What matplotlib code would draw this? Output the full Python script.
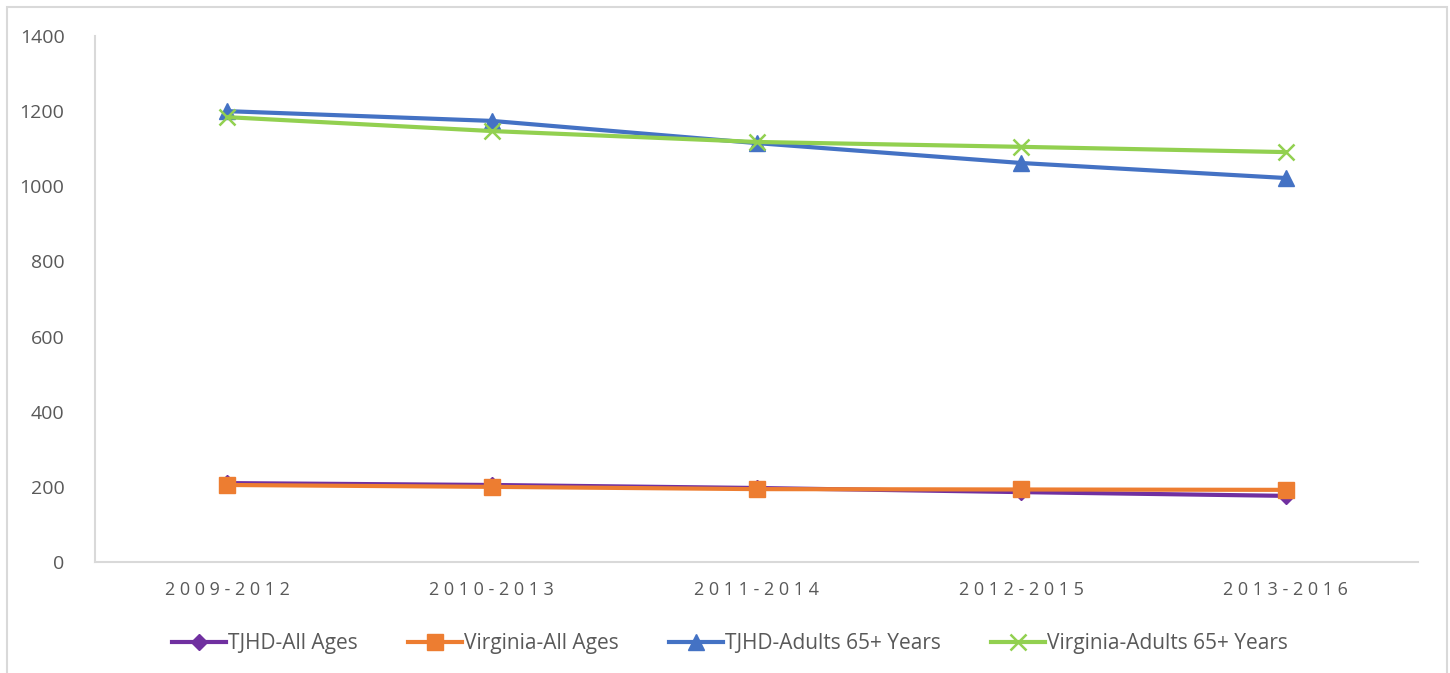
import matplotlib
matplotlib.use('Agg')
import matplotlib.pyplot as plt
from matplotlib.patches import Rectangle

# Rates by period
periods = ['2009-2012', '2010-2013', '2011-2014', '2012-2015', '2013-2016']
tjhd_all = [210, 205, 197, 186, 176]
va_all = [205, 200, 194, 193, 192]
tjhd_65 = [1200, 1174, 1115, 1062, 1022]
va_65 = [1184, 1147, 1118, 1105, 1091]

text_color = '#595959'
axis_color = '#D9D9D9'

plt.rcParams['font.family'] = ['Open Sans', 'DejaVu Sans']

fig = plt.figure(figsize=(14.5, 6.73), dpi=100)
ax = fig.add_axes([95 / 1450, 111 / 673, 1323 / 1450, 526 / 673])

x = list(range(len(periods)))
lw = 3.0
ax.plot(x, tjhd_all, color='#7030A0', lw=lw, marker='D', ms=8, label='TJHD-All Ages', zorder=3)
ax.plot(x, va_all, color='#ED7D31', lw=lw, marker='s', ms=11, label='Virginia-All Ages', zorder=4)
ax.plot(x, tjhd_65, color='#4472C4', lw=lw, marker='^', ms=12, label='TJHD-Adults 65+ Years', zorder=3)
ax.plot(x, va_65, color='#92D050', lw=lw, marker='x', ms=11, mew=1.8,
        label='Virginia-Adults 65+ Years', zorder=4)

ax.set_xlim(-0.5, 4.5)
ax.set_ylim(0, 1400)
ax.set_yticks(range(0, 1401, 200))
ax.set_xticks(x)
ax.set_xticklabels([' '.join(p) for p in periods])

for s in ['top', 'right']:
    ax.spines[s].set_visible(False)
for s in ['left', 'bottom']:
    ax.spines[s].set_color(axis_color)
    ax.spines[s].set_linewidth(1.5)
ax.tick_params(axis='both', length=0, colors=text_color)
ax.tick_params(axis='y', pad=22, labelsize=14)
ax.tick_params(axis='x', pad=14, labelsize=13)

leg = ax.legend(loc='upper center', bbox_to_anchor=(0.48, -0.1), ncol=4, frameon=False,
                fontsize=15, handlelength=2.6, handletextpad=0.1, columnspacing=2.4)
for t in leg.get_texts():
    t.set_color(text_color)

# outer chart border
fig.patches.append(Rectangle((7 / 1450, -0.05), 1440 / 1450, 1.05 - 7 / 673,
                             transform=fig.transFigure, fill=False,
                             edgecolor=axis_color, lw=1.5))

fig.savefig('out.png', dpi=100)
